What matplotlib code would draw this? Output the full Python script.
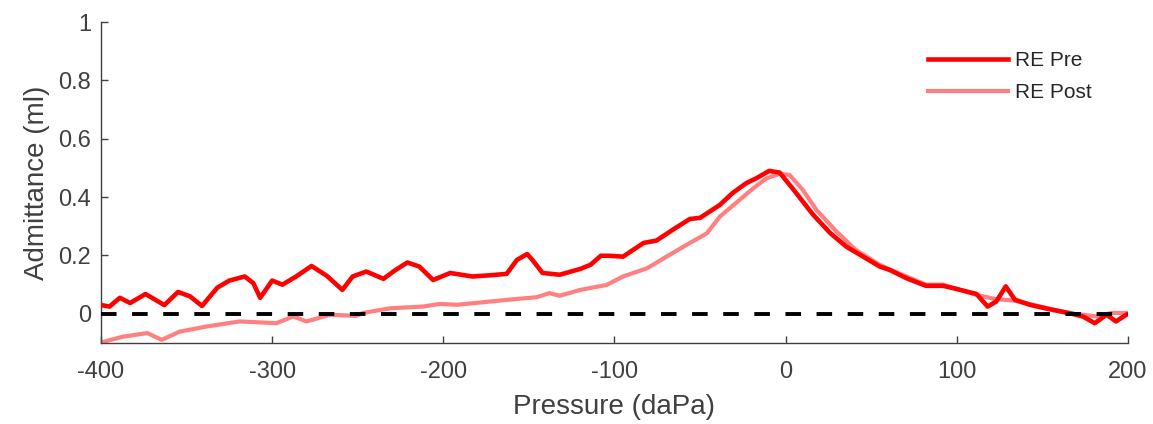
import matplotlib
matplotlib.use("Agg")
import matplotlib.pyplot as plt

plt.rcParams['font.family'] = ['Liberation Sans', 'DejaVu Sans']

# RE Pre tympanogram
pre_x = [-400, -395, -389, -383, -374, -363, -355, -348, -341, -332, -325, -316,
         -311, -307, -300, -294, -286, -277, -268, -259, -253, -245, -235, -228,
         -221, -214, -206, -196, -183, -173, -163, -157, -151, -148, -142, -132,
         -120, -114, -108, -103, -95, -83, -75.5, -66, -56, -50, -38.5, -31, -23,
         -17, -9.6, -3.5, 4, 16, 26, 35.5, 47, 55, 61, 70.6, 82, 92, 100, 111.5,
         118, 123, 128.6, 134, 142.6, 154, 166, 173.6, 180.6, 187.5, 193, 199]
pre_y = [0.03, 0.025, 0.055, 0.037, 0.068, 0.03, 0.075, 0.06, 0.027, 0.09, 0.114,
         0.128, 0.105, 0.055, 0.114, 0.1, 0.128, 0.164, 0.13, 0.082, 0.128, 0.145,
         0.12, 0.15, 0.176, 0.162, 0.116, 0.14, 0.128, 0.132, 0.137, 0.185, 0.205,
         0.185, 0.14, 0.134, 0.154, 0.168, 0.199, 0.199, 0.196, 0.243, 0.251, 0.288,
         0.325, 0.329, 0.373, 0.414, 0.448, 0.465, 0.49, 0.484, 0.43, 0.34, 0.277,
         0.23, 0.19, 0.162, 0.15, 0.122, 0.096, 0.096, 0.085, 0.068, 0.025, 0.042,
         0.094, 0.048, 0.031, 0.016, 0.002, -0.009, -0.032, -0.003, -0.026, -0.003]

# RE Post tympanogram
post_x = [-400, -387, -373, -364.5, -354, -338, -319, -297.5, -287.7, -280, -266,
          -251, -247, -231, -212, -202, -192, -173, -159, -145.5, -138, -132, -120,
          -104.6, -95, -81, -69.6, -58, -46, -38.5, -27, -19, -11, -3.5, 2.3, 10,
          18, 29.7, 41, 55, 61, 70.6, 82, 92, 111.5, 123, 134.6, 154, 166, 182,
          190, 199]
post_y = [-0.098, -0.078, -0.066, -0.089, -0.061, -0.043, -0.026, -0.032, -0.009,
          -0.026, -0.003, -0.007, 0.003, 0.019, 0.025, 0.034, 0.031, 0.042, 0.05,
          0.057, 0.071, 0.062, 0.082, 0.099, 0.128, 0.156, 0.196, 0.236, 0.276,
          0.333, 0.39, 0.43, 0.465, 0.48, 0.476, 0.425, 0.356, 0.282, 0.219, 0.168,
          0.152, 0.128, 0.1, 0.1, 0.065, 0.05, 0.045, 0.018, 0.002, -0.009, 0.003,
          0.003]

x_ticks = [-400, -300, -200, -100, 0, 100, 200]
y_ticks = [0, 0.2, 0.4, 0.6, 0.8, 1]
y_tick_labels = ['0', '0.2', '0.4', '0.6', '0.8', '1']

fig = plt.figure(figsize=(11.53, 4.24), dpi=100)
ax = fig.add_axes([0.0876, 0.191, 0.8907, 0.757])

ax.plot(post_x, post_y, color='#ff8080', lw=3.0, label='RE Post', zorder=2)
ax.plot(pre_x, pre_y, color='#ff0000', lw=3.3, label='RE Pre', zorder=3)
ax.axhline(0, color='black', lw=2.8, ls=(0, (4, 4)), zorder=4)

ax.set_xlim(-400, 200)
ax.set_ylim(-0.1, 1)
ax.set_xticks(x_ticks)
ax.set_xticklabels([str(t) for t in x_ticks])
ax.set_yticks(y_ticks)
ax.set_yticklabels(y_tick_labels)

for s in ['top', 'right']:
    ax.spines[s].set_visible(False)
for s in ['left', 'bottom']:
    ax.spines[s].set_color('#404040')
    ax.spines[s].set_linewidth(1.0)
ax.tick_params(direction='in', length=5, width=1, colors='#404040',
               labelsize=17, labelcolor='#404040')
ax.tick_params(axis='x', pad=13)
ax.tick_params(axis='y', pad=7)

ax.set_xlabel('Pressure (daPa)', fontsize=20, color='#404040', labelpad=8)
ax.set_ylabel('Admittance (ml)', fontsize=20, color='#404040', labelpad=6)

handles, labels = ax.get_legend_handles_labels()
leg = ax.legend(handles[::-1], labels[::-1], loc='upper left', frameon=False,
                fontsize=15, handlelength=3.85, handletextpad=0.34,
                labelspacing=0.62, borderpad=0, borderaxespad=0,
                bbox_to_anchor=(928 / 1153, 1 - 51 / 424),
                bbox_transform=fig.transFigure)
for t in leg.get_texts():
    t.set_color('#262626')

fig.savefig('out.png', dpi=100)
